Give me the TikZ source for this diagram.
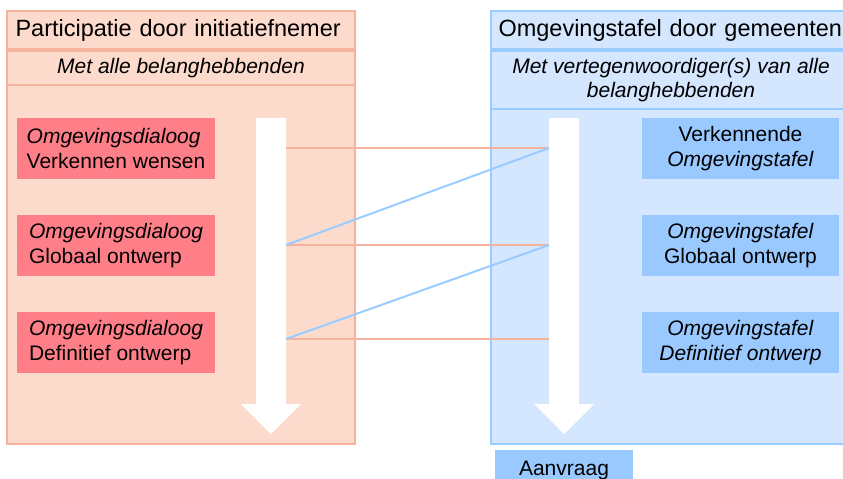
\documentclass[tikz,border=0pt]{standalone}
\usepackage{fontspec}
\setmainfont{Liberation Sans}
\definecolor{PartFill}{HTML}{FCDACC}
\definecolor{PartLine}{HTML}{F5B29C}
\definecolor{DialoogRed}{HTML}{FF7F89}
\definecolor{TafelFill}{HTML}{D5E6FF}
\definecolor{TafelLine}{HTML}{99CCFF}
\definecolor{TafelBox}{HTML}{99C9FF}
\usetikzlibrary{positioning}
\tikzset{
  % Panel styles
  partcell/.style={rectangle, draw=PartLine, fill=PartFill, line width=2pt, inner sep=0pt, minimum width=348pt},
  tafelcell/.style={rectangle, draw=TafelLine, fill=TafelFill, line width=2pt, inner sep=0pt, minimum width=360pt},
  titletext/.style={text width=345pt, align=left, font=\fontsize{23.5}{26}\selectfont},
  subtext/.style={align=center, font=\fontsize{21}{24.5}\selectfont\itshape},
  % Box styles
  dialoogbox/.style={rectangle, fill=DialoogRed, minimum width=198pt, minimum height=61pt, inner sep=0pt, align=left, font=\fontsize{21}{25}\selectfont},
  tafelbox/.style={rectangle, fill=TafelBox, minimum width=197pt, minimum height=61pt, inner sep=0pt, align=center, font=\fontsize{21}{25}\selectfont},
  % Line styles
  partline/.style={line width=2pt, PartLine},
  tafelline/.style={line width=2pt, TafelLine}
}
\begin{document}
\begin{tikzpicture}[x=1pt, y=-1pt]
  \useasboundingbox (0,0) rectangle (843,479);

  % Participatie panel
  \node[partcell, minimum height=433pt] (partpanel) at (181,227.5) {};
  \node[partcell, minimum height=38pt] (parttitle) at (181,30) {};
  \node[titletext, right=0pt of parttitle.west, xshift=6pt] {Participatie door initiatiefnemer};
  \node[partcell, minimum height=34pt, below=0pt of parttitle] (partsub) {};
  \node[subtext] at (partsub) {Met alle belanghebbenden};

  % Omgevingstafel panel
  \node[tafelcell, minimum height=433pt] (tafelpanel) at (671,227.5) {};
  \node[tafelcell, minimum height=38pt] (tafeltitle) at (671,30) {};
  \node[titletext, right=0pt of tafeltitle.west, xshift=5pt] {Omgevingstafel door gemeenten};
  \node[tafelcell, minimum height=58pt, below=0pt of tafeltitle] (tafelsub) {};
  \node[subtext] at (tafelsub) {Met vertegenwoordiger(s) van alle\\belanghebbenden};

  % Dialoog boxes
  \node[dialoogbox] (dialoog1) at (116,148.5) {\textit{Omgevingsdialoog}\\Verkennen wensen};
  \node[dialoogbox] (dialoog2) at (116,245.5) {\textit{Omgevingsdialoog}\\Globaal ontwerp};
  \node[dialoogbox] (dialoog3) at (116,342.5) {\textit{Omgevingsdialoog}\\Definitief ontwerp};

  % Tafel boxes
  \node[tafelbox] (tafel1) at (740.5,148.5) {Verkennende\\\textit{Omgevingstafel}};
  \node[tafelbox] (tafel2) at (740.5,245.5) {\textit{Omgevingstafel}\\Globaal ontwerp};
  \node[tafelbox] (tafel3) at (740.5,342.5) {\textit{Omgevingstafel}\\\textit{Definitief ontwerp}};

  % Aanvraag
  \node[tafelbox, minimum width=138pt, minimum height=40pt] (aanvraag) at (564,470) {Aanvraag};

  % Time arrows
  \fill[white] (256,118) -- (286,118) -- (286,404) -- (301,404) -- (271,434) -- (241,404) -- (256,404) -- cycle;
  \fill[white] (549,118) -- (579,118) -- (579,404) -- (594,404) -- (564,434) -- (534,404) -- (549,404) -- cycle;

  % Anchor points on the arrows
  \coordinate (left1) at (286,148);
  \coordinate (left2) at (286,245);
  \coordinate (left3) at (286,339);
  \coordinate (right1) at (549,148);
  \coordinate (right2) at (549,245);
  \coordinate (right3) at (549,339);

  \draw[partline] (left1) -- (right1);
  \draw[partline] (left2) -- (right2);
  \draw[partline] (left3) -- (right3);
  \draw[tafelline] (left2) -- (right1);
  \draw[tafelline] (left3) -- (right2);
\end{tikzpicture}
\end{document}
